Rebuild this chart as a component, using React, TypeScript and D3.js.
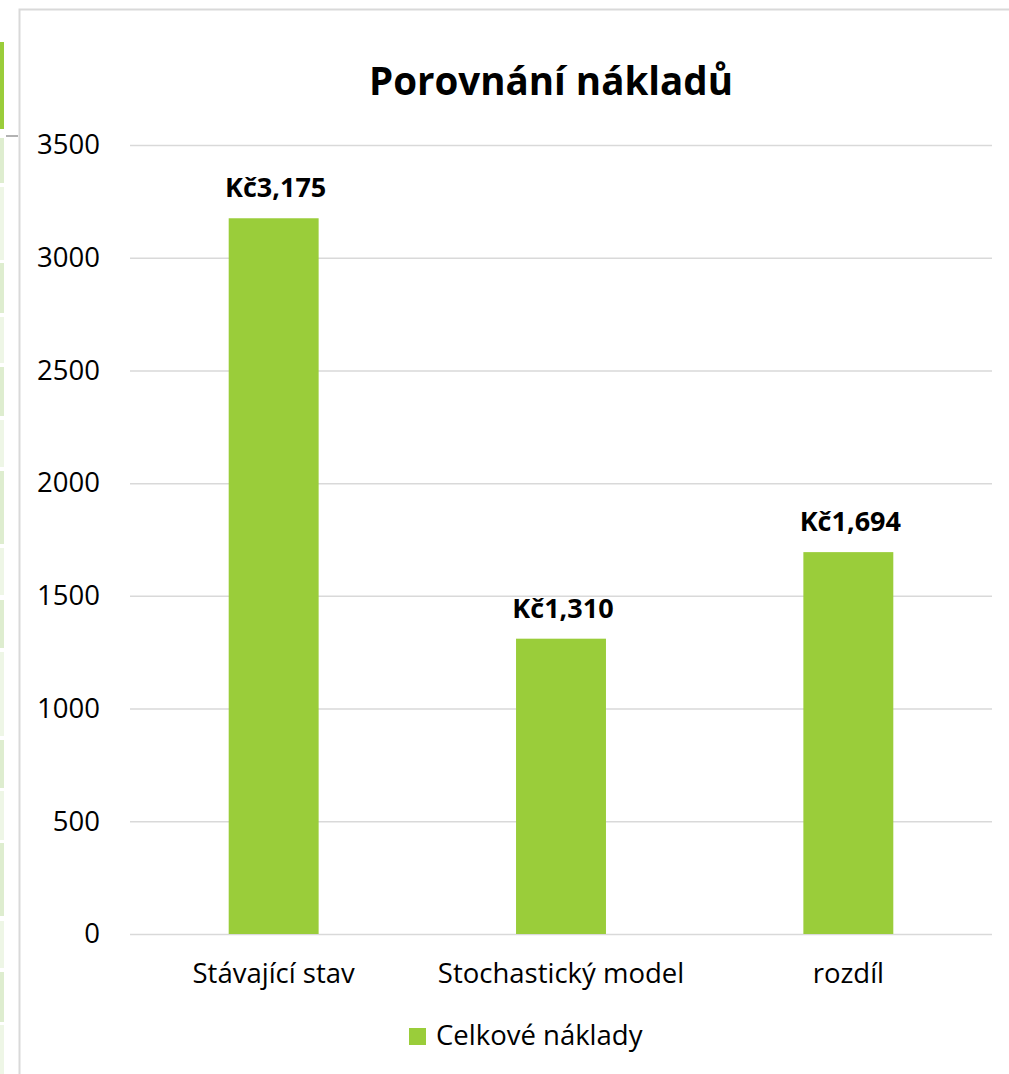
import React, { useEffect, useRef } from 'react';
import * as d3 from 'd3';

// chart data
const categories = ['Stávající stav', 'Stochastický model', 'rozdíl'];
const totals = [3175, 1310, 1694];
const seriesName = 'Celkové náklady';
const chartTitle = 'Porovnání nákladů';
const yTicks = [0, 500, 1000, 1500, 2000, 2500, 3000, 3500];

const W = 1009;
const H = 1074;
const FONT = '"Open Sans", "Noto Sans", sans-serif';
const GREEN = '#9acd3a';
const GRID = '#d9d9d9';

// spreadsheet cells peeking out on the left of the chart frame
const sideCells = [
  [138, 183, '#deedcf'], [187, 260, '#eef6e6'], [263, 313, '#deedcf'],
  [317, 363, '#eef6e6'], [367, 416, '#deedcf'], [420, 467, '#eef6e6'],
  [471, 544, '#deedcf'], [548, 595, '#eef6e6'], [600, 648, '#deedcf'],
  [652, 736, '#eef6e6'], [740, 788, '#deedcf'], [791, 840, '#eef6e6'],
  [843, 916, '#deedcf'], [921, 968, '#eef6e6'], [972, 1022, '#deedcf'],
  [1025, 1074, '#eef6e6'],
];

export default function App() {
  const ref = useRef<SVGSVGElement>(null);

  useEffect(() => {
    document.body.style.margin = '0';
    const svg = d3.select(ref.current);
    svg.selectAll('*').remove();

    const margin = { top: 145, right: 17, bottom: 140, left: 130 };

    const x = d3.scaleBand()
      .domain(categories)
      .range([margin.left, W - margin.right])
      .paddingInner(0.687)
      .paddingOuter(0.3435);

    const y = d3.scaleLinear()
      .domain([0, 3500])
      .range([H - margin.bottom, margin.top]);

    // background + frame
    svg.append('rect').attr('width', W).attr('height', H).attr('fill', '#fff');
    svg.append('g').selectAll('rect')
      .data(sideCells)
      .join('rect')
      .attr('x', 0)
      .attr('y', d => d[0] as number)
      .attr('width', 4)
      .attr('height', d => (d[1] as number) - (d[0] as number))
      .attr('fill', d => d[2] as string);
    svg.append('rect').attr('x', 0).attr('y', 42).attr('width', 4).attr('height', 87).attr('fill', GREEN);
    svg.append('line').attr('x1', 6).attr('x2', 18).attr('y1', 136).attr('y2', 136)
      .attr('stroke', '#999').attr('stroke-width', 1.5);
    svg.append('rect')
      .attr('x', 19.5).attr('y', 9.5)
      .attr('width', W + 20).attr('height', H + 20)
      .attr('fill', 'none').attr('stroke', GRID).attr('stroke-width', 2);

    // y axis with gridlines
    const yAxis = svg.append('g')
      .attr('transform', `translate(${margin.left},0)`)
      .call(d3.axisLeft(y).tickValues(yTicks).tickFormat(d3.format('d'))
        .tickSize(-(W - margin.left - margin.right)).tickPadding(30));
    yAxis.select('.domain').remove();
    yAxis.selectAll('.tick line').attr('stroke', GRID).attr('stroke-width', 1.5);
    yAxis.selectAll('.tick text')
      .attr('font-family', FONT).attr('font-size', 27.5).attr('fill', '#000');

    // x axis
    const xAxis = svg.append('g')
      .attr('transform', `translate(0,${y(0)})`)
      .call(d3.axisBottom(x).tickSize(0).tickPadding(29));
    xAxis.select('.domain').remove();
    xAxis.selectAll('.tick text')
      .attr('font-family', FONT).attr('font-size', 27.5).attr('fill', '#000');

    // bars
    svg.append('g').selectAll('rect')
      .data(totals)
      .join('rect')
      .attr('x', (d, i) => x(categories[i])!)
      .attr('y', d => y(d))
      .attr('width', x.bandwidth())
      .attr('height', d => y(0) - y(d))
      .attr('fill', GREEN);

    // value labels
    svg.append('g').selectAll('text')
      .data(totals)
      .join('text')
      .attr('x', (d, i) => x(categories[i])! + x.bandwidth() / 2 + 2)
      .attr('y', d => y(d) - 21)
      .attr('text-anchor', 'middle')
      .attr('font-family', FONT)
      .attr('font-weight', 700)
      .attr('font-size', 27)
      .text(d => 'Kč' + d3.format(',')(d));

    // title
    svg.append('text')
      .attr('x', 551)
      .attr('y', 95)
      .attr('text-anchor', 'middle')
      .attr('font-family', FONT)
      .attr('font-weight', 700)
      .attr('font-size', 38.5)
      .text(chartTitle);

    // legend
    const legend = svg.append('g').attr('transform', 'translate(409,1028)');
    legend.append('rect').attr('width', 17).attr('height', 17).attr('fill', GREEN);
    legend.append('text')
      .attr('x', 27).attr('y', 17)
      .attr('font-family', FONT).attr('font-size', 27.5)
      .text(seriesName);
  }, []);

  return <svg ref={ref} width={W} height={H} style={{ display: 'block' }} />;
}
